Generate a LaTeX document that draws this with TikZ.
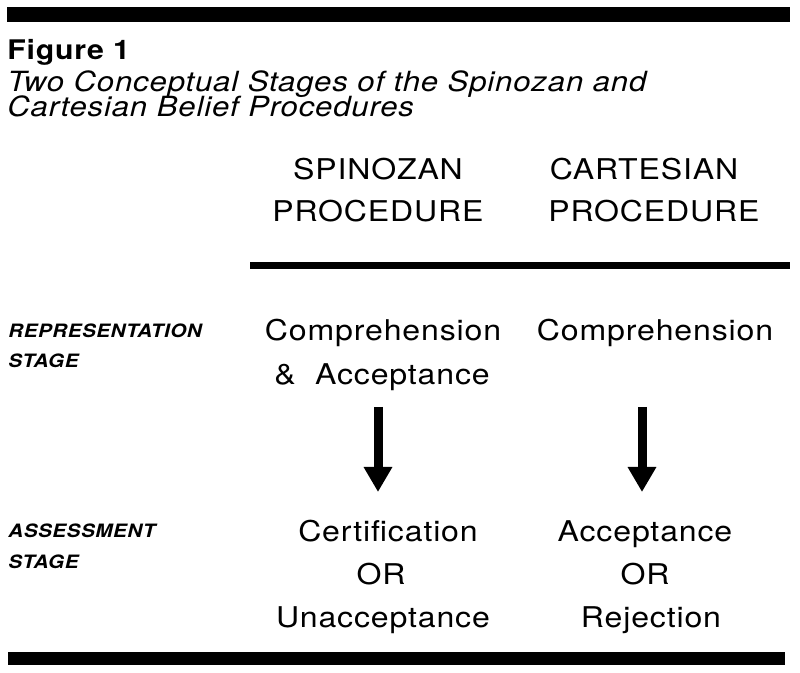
\documentclass[tikz,border=0pt]{standalone}
\usepackage{fontspec}
\setmainfont{TeX Gyre Heros}[FakeStretch=1.12, LetterSpace=3]
\usetikzlibrary{arrows.meta}

\tikzset{
  body/.style={font=\fontsize{14.3}{16}\selectfont, anchor=base, inner sep=0pt},
  caption/.style={font=\fontsize{13.9}{15}\selectfont\itshape, anchor=base west, inner sep=0pt},
  stagelabel/.style={font=\fontsize{9.2}{11}\selectfont\bfseries\itshape, anchor=base west, inner sep=0pt},
  rule/.style={fill=black},
  flow/.style={line width=4.5pt, -{Triangle[width=13.5pt,length=12.5pt]}}
}

\begin{document}
\begin{tikzpicture}[x=0.5pt,y=-0.5pt]
\useasboundingbox (0,0) rectangle (800,673);

\fill[rule] (7,7) rectangle (790,22);
\fill[rule] (250,262) rectangle (790,269);
\fill[rule] (8,652) rectangle (785,665);

\node[font=\fontsize{13.5}{16}\selectfont\bfseries, anchor=base west, inner sep=0pt] (fig) at (7,60) {Figure 1};
\node[caption] (title1) at (7,92) {Two Conceptual Stages of the Spinozan and};
\node[caption] (title2) at (7,117) {Cartesian Belief Procedures};

    % column heads
    \node[body] (spinhead) at (378,180) {SPINOZAN};
    \node[body] (spinproc) at (378,222) {PROCEDURE};
    \node[body] (carthead) at (644,180) {CARTESIAN};
    \node[body] (cartproc) at (654,222) {PROCEDURE};

    \node[stagelabel] (repA) at (8,338) {REPRESENTATION};
    \node[stagelabel] (repB) at (8,368) {STAGE};
    \node[stagelabel] (assA) at (8,538) {ASSESSMENT};
    \node[stagelabel] (assB) at (8,569) {STAGE};

    \node[body] (spinrepA) at (383,341) {Comprehension};
    \node[body] (spinrepB) at (382,385) {\&\ \ Acceptance};
    \node[body] (cartrep) at (655,341) {Comprehension};

    \node[body] (spinassA) at (388,542) {Certification};
    \node[body] (spinassB) at (381,585) {OR};
    \node[body] (spinassC) at (383,628) {Unacceptance};
    \node[body] (cartassA) at (645,542) {Acceptance};
    \node[body] (cartassB) at (645,585) {OR};
    \node[body] (cartassC) at (651,628) {Rejection};

    \coordinate (spintop) at (378,407);
    \coordinate (spinend) at (378,492);
    \coordinate (carttop) at (642,407);
    \coordinate (cartend) at (642,492);
    \draw[flow] (spintop) -- (spinend);%representation to assessment
    \draw[flow] (carttop) -- (cartend);
\end{tikzpicture}
\end{document}
